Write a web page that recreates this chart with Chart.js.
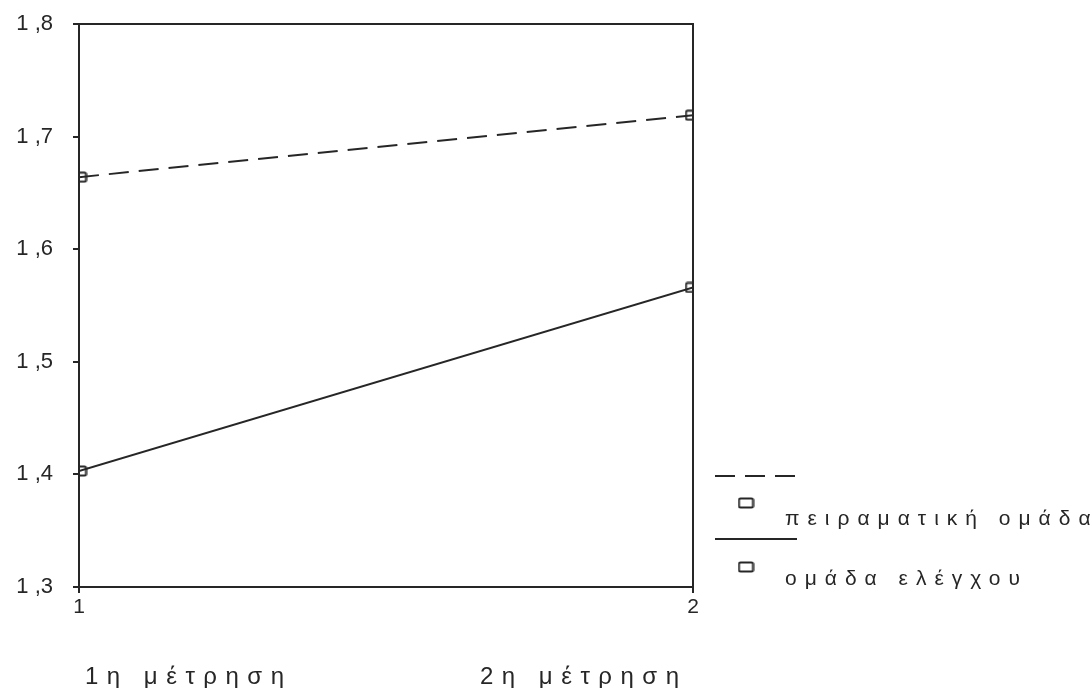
<!DOCTYPE html>
<html lang="el">
<head>
<meta charset="utf-8">
<title>Μέσοι όροι ανά μέτρηση</title>
<script src="https://cdn.jsdelivr.net/npm/chart.js@4.4.1/dist/chart.umd.min.js"></script>
<style>
  html, body { margin: 0; padding: 0; background: #ffffff; }
  #wrap { width: 1090px; height: 688px; }
</style>
</head>
<body>
<div id="wrap"><canvas id="chart" width="1090" height="688"></canvas></div>
<script>
// Measurements on the x axis and their captions under the chart
const measurements = [1, 2];
const xTickLabels = ['1', '2'];
const measureLabels = ['1η μέτρηση', '2η μέτρηση'];

// Group means
const groupNames = ['πειραματική ομάδα', 'ομάδα ελέγχου'];
const experimentalMeans = [1.664, 1.719];
const controlMeans = [1.403, 1.566];

// Y axis tick labels (1.3 … 1.8)
const yTickLabels = ['1 ,3', '1 ,4', '1 ,5', '1 ,6', '1 ,7', '1 ,8'];

const INK = '#262626';
const FONT = '"Liberation Sans", Arial, sans-serif';

// Open square marker used on both lines
function makeMarker() {
  const c = document.createElement('canvas');
  c.width = 17; c.height = 12;
  const g = c.getContext('2d');
  g.strokeStyle = INK;
  g.lineWidth = 2;
  g.beginPath();
  g.roundRect(1.5, 1.5, 14, 9, 1.5);
  g.stroke();
  return c;
}
const marker = makeMarker();

// Frame: top and right edges of the plot area
const framePlugin = {
  id: 'frame',
  afterDatasetsDraw(chart) {
    const { ctx, chartArea: a } = chart;
    ctx.save();
    ctx.strokeStyle = INK;
    ctx.lineWidth = 2;
    ctx.beginPath();
    ctx.moveTo(a.left, a.top);
    ctx.lineTo(a.right, a.top);
    ctx.lineTo(a.right, a.bottom);
    ctx.stroke();
    ctx.restore();
  }
};

// Legend on the right and measurement captions along the bottom
const captionPlugin = {
  id: 'captions',
  afterDraw(chart) {
    const ctx = chart.ctx;
    ctx.save();
    ctx.fillStyle = INK;
    ctx.strokeStyle = INK;
    ctx.textAlign = 'left';
    ctx.textBaseline = 'alphabetic';

    // legend
    const sampleX0 = 715, sampleX1 = 797;
    const rows = [
      { lineY: 476, markY: 503, textY: 525 },
      { lineY: 539, markY: 567, textY: 585 }
    ];
    chart.data.datasets.forEach((ds, i) => {
      const r = rows[i];
      ctx.lineWidth = 2;
      ctx.setLineDash(ds.borderDash || []);
      ctx.beginPath();
      ctx.moveTo(sampleX0, r.lineY);
      ctx.lineTo(sampleX1, r.lineY);
      ctx.stroke();
      ctx.setLineDash([]);
      ctx.drawImage(marker, 746 - marker.width / 2, r.markY - marker.height / 2);
      ctx.font = '21px ' + FONT;
      ctx.letterSpacing = '8px';
      ctx.fillText(ds.label, 785, r.textY);
    });

    // captions under the x axis
    ctx.font = '24px ' + FONT;
    ctx.letterSpacing = '8.5px';
    const captionX = [85, 480];
    measureLabels.forEach((t, i) => ctx.fillText(t, captionX[i], 684));
    ctx.restore();
  }
};

new Chart(document.getElementById('chart'), {
  type: 'line',
  data: {
    datasets: [
      {
        label: groupNames[0],
        data: measurements.map((m, i) => ({ x: m, y: experimentalMeans[i] })),
        borderColor: INK,
        borderWidth: 2,
        borderDash: [20, 10],
        pointStyle: marker,
        tension: 0
      },
      {
        label: groupNames[1],
        data: measurements.map((m, i) => ({ x: m, y: controlMeans[i] })),
        borderColor: INK,
        borderWidth: 2,
        pointStyle: marker,
        tension: 0
      }
    ]
  },
  options: {
    responsive: false,
    animation: false,
    devicePixelRatio: 1,
    layout: { padding: { top: 24, right: 397, bottom: 0, left: 0 } },
    plugins: {
      legend: { display: false },
      tooltip: { enabled: false }
    },
    scales: {
      x: {
        type: 'linear',
        min: 1,
        max: 2,
        afterFit(scale) {
          scale.height = 101;
          scale.paddingLeft = 0;
          scale.paddingRight = 0;
        },
        afterBuildTicks(scale) {
          scale.ticks = measurements.map(v => ({ value: v }));
        },
        ticks: {
          color: INK,
          font: { family: FONT, size: 21 },
          padding: 2,
          maxRotation: 0,
          callback: (v, i) => xTickLabels[i]
        },
        grid: { drawOnChartArea: false, drawTicks: true, tickLength: 6, color: INK, lineWidth: 2 },
        border: { display: true, color: INK, width: 2 }
      },
      y: {
        min: 1.3,
        max: 1.8,
        afterFit(scale) {
          scale.width = 79;
          scale.paddingTop = 0;
          scale.paddingBottom = 0;
        },
        ticks: {
          stepSize: 0.1,
          color: INK,
          font: { family: FONT, size: 22 },
          padding: 20,
          callback: (v, i) => yTickLabels[i]
        },
        grid: { drawOnChartArea: false, drawTicks: true, tickLength: 6, color: INK, lineWidth: 2 },
        border: { display: true, color: INK, width: 2 }
      }
    }
  },
  plugins: [framePlugin, captionPlugin]
});
</script>
</body>
</html>
